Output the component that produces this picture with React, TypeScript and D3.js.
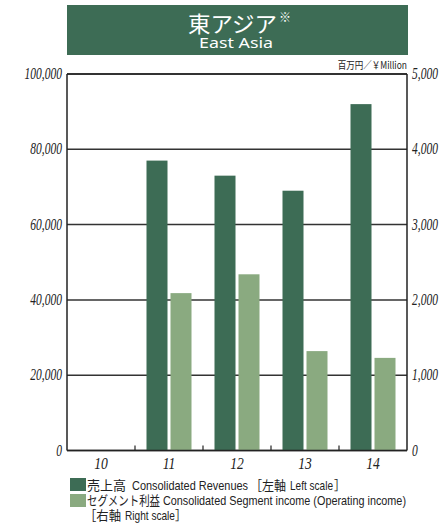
import React from 'react';
import * as d3 from 'd3';

const years = ['10', '11', '12', '13', '14'];
const revenues: (number | null)[] = [null, 77000, 73000, 69000, 92000];
const segmentIncome: (number | null)[] = [null, 2090, 2340, 1320, 1230];
const leftTicks = [0, 20000, 40000, 60000, 80000, 100000];
const rightTicks = [0, 1000, 2000, 3000, 4000, 5000];

const DARK = '#3d6c55';
const LIGHT = '#8aaa80';

const W = 444;
const H = 523;
const L = 67;
const R = 407;
const T = 74;
const B = 450.5;

const serif = '"Liberation Serif", "Times New Roman", serif';
const cjk = '"Noto Sans CJK JP", "Noto Sans", sans-serif';
const sans = '"Liberation Sans", Arial, sans-serif';

type Seg = { t: string; x: number; w: number; cjk?: boolean };

const legendLines: { y: number; segs: Seg[] }[] = [
  {
    y: 490,
    segs: [
      { t: '売上高', x: 87, w: 39, cjk: true },
      { t: 'Consolidated Revenues', x: 132, w: 116 },
      { t: '［左軸', x: 250, w: 36, cjk: true },
      { t: 'Left scale', x: 290, w: 43 },
      { t: '］', x: 334, w: 12, cjk: true },
    ],
  },
  {
    y: 505,
    segs: [
      { t: 'セグメント利益', x: 87, w: 73, cjk: true },
      { t: 'Consolidated Segment income (Operating income)', x: 163, w: 243 },
    ],
  },
  {
    y: 520,
    segs: [
      { t: '［右軸', x: 84, w: 37, cjk: true },
      { t: 'Right scale', x: 125, w: 50 },
      { t: '］', x: 175, w: 12, cjk: true },
    ],
  },
];

export default function App() {
  const x = d3.scaleBand<string>().domain(years).range([L, R]).paddingInner(0).paddingOuter(0);
  const inner = d3.scaleBand<string>().domain(['rev', 'inc']).range([0, 45]).paddingInner(0.125);
  const innerOffset = (x.bandwidth() - 45) / 2;
  const yL = d3.scaleLinear().domain([0, 100000]).range([B, T]);
  const yR = d3.scaleLinear().domain([0, 5000]).range([B, T]);
  const fmt = d3.format(',');

  return (
    <div style={{ position: 'absolute', left: 0, top: 0 }}>
      <svg width={W} height={H} style={{ display: 'block' }}>
        <rect x={0} y={0} width={W} height={H} fill="#fff" />
        {/* title */}
        <rect x={67} y={5} width={341} height={50} fill={DARK} />
        <text x={188} y={32} fill="#fff" fontFamily={cjk} fontSize={22} textLength={89} lengthAdjust="spacingAndGlyphs">
          東アジア
        </text>
        <text x={279} y={22} fill="#fff" fontFamily={cjk} fontSize={12}>
          ※
        </text>
        <text x={199} y={48} fill="#fff" fontFamily={'"Noto Sans", sans-serif'} fontSize={14.5} textLength={74} lengthAdjust="spacingAndGlyphs">
          East Asia
        </text>
        {/* unit */}
        <text
          transform={`translate(${R},${69}) scale(0.85,1)`}
          textAnchor="end"
          fontFamily={cjk}
          fontSize={10}
          fill="#222"
        >
          百万円／￥Million
        </text>
        {/* gridlines */}
        {leftTicks.map((t) => (
          <line key={'g' + t} x1={L} x2={R} y1={yL(t)} y2={yL(t)} stroke="#333" strokeWidth={1.5} />
        ))}
        {/* bars */}
        {years.map((yr, i) => {
          const rv = revenues[i];
          const si = segmentIncome[i];
          const x0 = (x(yr) as number) + innerOffset;
          return (
            <g key={yr}>
              {rv != null && (
                <rect x={x0 + (inner('rev') as number)} y={yL(rv)} width={inner.bandwidth()} height={B - yL(rv)} fill={DARK} />
              )}
              {si != null && (
                <rect x={x0 + (inner('inc') as number)} y={yR(si)} width={inner.bandwidth()} height={B - yR(si)} fill={LIGHT} />
              )}
            </g>
          );
        })}
        {/* frame */}
        <line x1={L} x2={L} y1={T} y2={B} stroke="#222" strokeWidth={1.5} />
        <line x1={R} x2={R} y1={T} y2={B} stroke="#222" strokeWidth={1.5} />
        <line x1={L} x2={R} y1={B} y2={B} stroke="#222" strokeWidth={1.5} />
        <line x1={L} x2={R} y1={T} y2={T} stroke="#222" strokeWidth={1.5} />
        {/* category ticks */}
        {years.slice(1).map((yr) => (
          <line key={'ct' + yr} x1={x(yr) as number} x2={x(yr) as number} y1={B} y2={B - 5} stroke="#222" strokeWidth={1.2} />
        ))}
        {/* left labels */}
        {leftTicks.map((t) => (
          <text
            key={'l' + t}
            transform={`translate(${62},${yL(t) + 5}) scale(0.72,1)`}
            textAnchor="end"
            fontFamily={serif}
            fontStyle="italic"
            fontSize={16}
            fill="#222"
          >
            {fmt(t)}
          </text>
        ))}
        {/* right labels */}
        {rightTicks.map((t) => (
          <text
            key={'r' + t}
            transform={`translate(${412},${yR(t) + 5}) scale(0.72,1)`}
            textAnchor="start"
            fontFamily={serif}
            fontStyle="italic"
            fontSize={16}
            fill="#222"
          >
            {fmt(t)}
          </text>
        ))}
        {/* x labels */}
        {years.map((yr) => (
          <text
            key={'x' + yr}
            transform={`translate(${(x(yr) as number) + x.bandwidth() / 2},${469}) scale(0.85,1)`}
            textAnchor="middle"
            fontFamily={serif}
            fontStyle="italic"
            fontSize={16}
            fill="#222"
          >
            {yr}
          </text>
        ))}
        {/* legend */}
        <rect x={70} y={478} width={16} height={13} fill={DARK} />
        <rect x={70} y={494} width={16} height={13} fill={LIGHT} />
        {legendLines.map((ln, li) =>
          ln.segs.map((s, si) => (
            <text
              key={`lg${li}-${si}`}
              x={s.x}
              y={ln.y}
              fill="#222"
              fontFamily={s.cjk ? cjk : sans}
              fontSize={s.cjk ? 13 : 13.5}
              textLength={s.w}
              lengthAdjust="spacingAndGlyphs"
            >
              {s.t}
            </text>
          ))
        )}
      </svg>
    </div>
  );
}
